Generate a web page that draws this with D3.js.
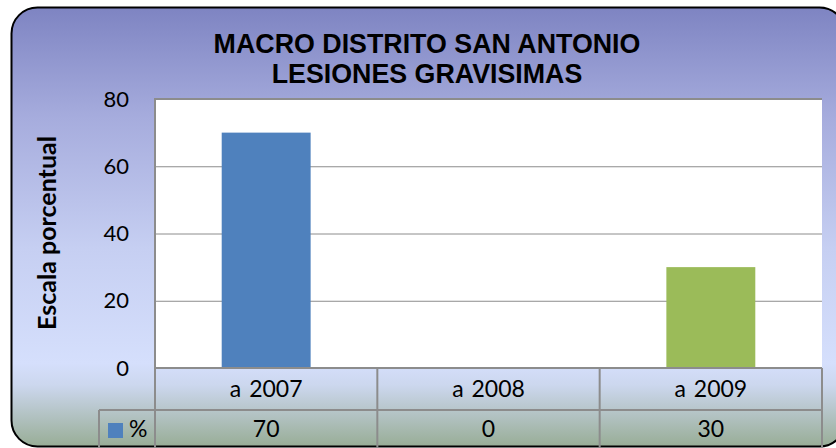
<!DOCTYPE html>
<html lang="es">
<head>
<meta charset="UTF-8">
<title>Macro Distrito San Antonio</title>
<script src="https://d3js.org/d3.v7.min.js"></script>
<style>
    body { margin: 0; padding: 0; background: #ffffff; }
    svg { display: block; }
</style>
</head>
<body>
<svg id="chart" width="836" height="448"></svg>
<script>
    // data
    const categories = ["a 2007", "a 2008", "a 2009"];
    const values = [70, 0, 30];
    const barColors = ["#4F81BD", "#4F81BD", "#9BBB59"];
    const yTicks = [0, 20, 40, 60, 80];
    const seriesName = "%";
    const titleLines = ["MACRO DISTRITO SAN ANTONIO", "LESIONES GRAVISIMAS"];
    const yTitle = "Escala porcentual";

    const W = 836, H = 448;
    const plot = { left: 155, right: 822, top: 99, bottom: 368 };
    const rowH = 42;
    const legendLeft = 99;
    const bodyFont = "Lato, 'Open Sans', sans-serif";

    const svg = d3.select("#chart");
    const defs = svg.append("defs");

    const bg = defs.append("linearGradient")
        .attr("id", "bgGrad").attr("x1", 0).attr("y1", 0).attr("x2", 0).attr("y2", 1);
    bg.append("stop").attr("offset", "0%").attr("stop-color", "#7E84C2");
    bg.append("stop").attr("offset", "25%").attr("stop-color", "#A6ACDD");
    bg.append("stop").attr("offset", "55%").attr("stop-color", "#C6CFF2");
    bg.append("stop").attr("offset", "81%").attr("stop-color", "#D5DFFC");
    bg.append("stop").attr("offset", "86%").attr("stop-color", "#CCD7EE");
    bg.append("stop").attr("offset", "100%").attr("stop-color", "#98AD96");

    // outer rounded frame
    svg.append("rect")
        .attr("x", 11.5).attr("y", 7.5)
        .attr("width", 834).attr("height", 439)
        .attr("rx", 26).attr("ry", 26)
        .attr("fill", "url(#bgGrad)")
        .attr("stroke", "#000").attr("stroke-width", 2);

    // title
    svg.append("g").selectAll("text")
        .data(titleLines)
        .join("text")
        .attr("x", 427).attr("y", (d, i) => 53 + i * 30)
        .attr("text-anchor", "middle")
        .attr("font-family", "'Liberation Sans', Arial, sans-serif")
        .attr("font-weight", "bold")
        .attr("font-size", 26.8)
        .attr("fill", "#000")
        .text(d => d);

    const x = d3.scaleBand()
        .domain(categories)
        .range([plot.left, plot.right])
        .paddingInner(0.6)
        .paddingOuter(0.3);

    const xCell = d3.scaleBand()
        .domain(categories)
        .range([plot.left, plot.right]);

    const y = d3.scaleLinear()
        .domain([0, 80])
        .range([plot.bottom, plot.top]);

    // plot area
    svg.append("rect")
        .attr("x", plot.left).attr("y", plot.top)
        .attr("width", plot.right - plot.left).attr("height", plot.bottom - plot.top)
        .attr("fill", "#ffffff");

    // gridlines
    svg.append("g")
        .attr("transform", `translate(${plot.left},0)`)
        .call(d3.axisRight(y).tickValues(yTicks).tickSize(plot.right - plot.left).tickFormat(""))
        .call(g => g.select(".domain").remove())
        .call(g => g.selectAll(".tick line").attr("stroke", "#8c8c8c").attr("stroke-width", 1));

    // bars
    svg.append("g").selectAll("rect")
        .data(values)
        .join("rect")
        .attr("x", (d, i) => x(categories[i]))
        .attr("y", d => y(d))
        .attr("width", x.bandwidth())
        .attr("height", d => y(0) - y(d))
        .attr("fill", (d, i) => barColors[i]);

    // plot border (top and left)
    svg.append("path")
        .attr("d", `M${plot.left},${plot.bottom}V${plot.top}H${plot.right}`)
        .attr("fill", "none").attr("stroke", "#8c8c8c").attr("stroke-width", 2);

    // y tick labels
    const yAxis = svg.append("g")
        .attr("transform", `translate(${plot.left},0)`)
        .call(d3.axisLeft(y).tickValues(yTicks).tickSize(0).tickPadding(26));
    yAxis.select(".domain").remove();
    yAxis.selectAll("text")
        .attr("font-family", bodyFont)
        .attr("font-size", 22)
        .attr("fill", "#000");

    // y axis title
    svg.append("text")
        .attr("transform", `translate(56,233) rotate(-90)`)
        .attr("text-anchor", "middle")
        .attr("font-family", bodyFont)
        .attr("font-weight", "bold")
        .attr("font-size", 25)
        .attr("fill", "#000")
        .text(yTitle);

    // data table
    const table = svg.append("g");
    const lineColor = "#8c8c8c";
    const row1 = plot.bottom, row2 = plot.bottom + rowH, row3 = H + 4;

    table.append("g").selectAll("text")
        .data(categories)
        .join("text")
        .attr("x", d => xCell(d) + xCell.bandwidth() / 2)
        .attr("y", (row1 + row2) / 2 + 8)
        .attr("text-anchor", "middle")
        .attr("font-family", bodyFont)
        .attr("font-size", 23)
        .attr("word-spacing", 2)
        .text(d => d);

    table.append("g").selectAll("text")
        .data(values)
        .join("text")
        .attr("x", (d, i) => xCell(categories[i]) + xCell.bandwidth() / 2)
        .attr("y", row2 + 27)
        .attr("text-anchor", "middle")
        .attr("font-family", bodyFont)
        .attr("font-size", 23)
        .text(d => d);

    // legend key
    table.append("rect")
        .attr("x", 108).attr("y", 423)
        .attr("width", 15).attr("height", 15)
        .attr("fill", barColors[0]);
    table.append("text")
        .attr("x", 129).attr("y", row2 + 27)
        .attr("font-family", bodyFont)
        .attr("font-size", 23)
        .text(seriesName);

    const hLines = [
        [plot.left, row1, plot.right, row1],
        [legendLeft, row2, plot.right, row2]
    ];
    const vLines = [legendLeft, ...categories.map(c => xCell(c)), plot.right];
    table.append("g").selectAll("line")
        .data(hLines)
        .join("line")
        .attr("x1", d => d[0]).attr("y1", d => d[1])
        .attr("x2", d => d[2]).attr("y2", d => d[3])
        .attr("stroke", lineColor).attr("stroke-width", 2);
    table.append("g").selectAll("line")
        .data(vLines)
        .join("line")
        .attr("x1", d => d).attr("x2", d => d)
        .attr("y1", d => d === legendLeft ? row2 : row1)
        .attr("y2", row3)
        .attr("stroke", lineColor).attr("stroke-width", 2);
</script>
</body>
</html>
